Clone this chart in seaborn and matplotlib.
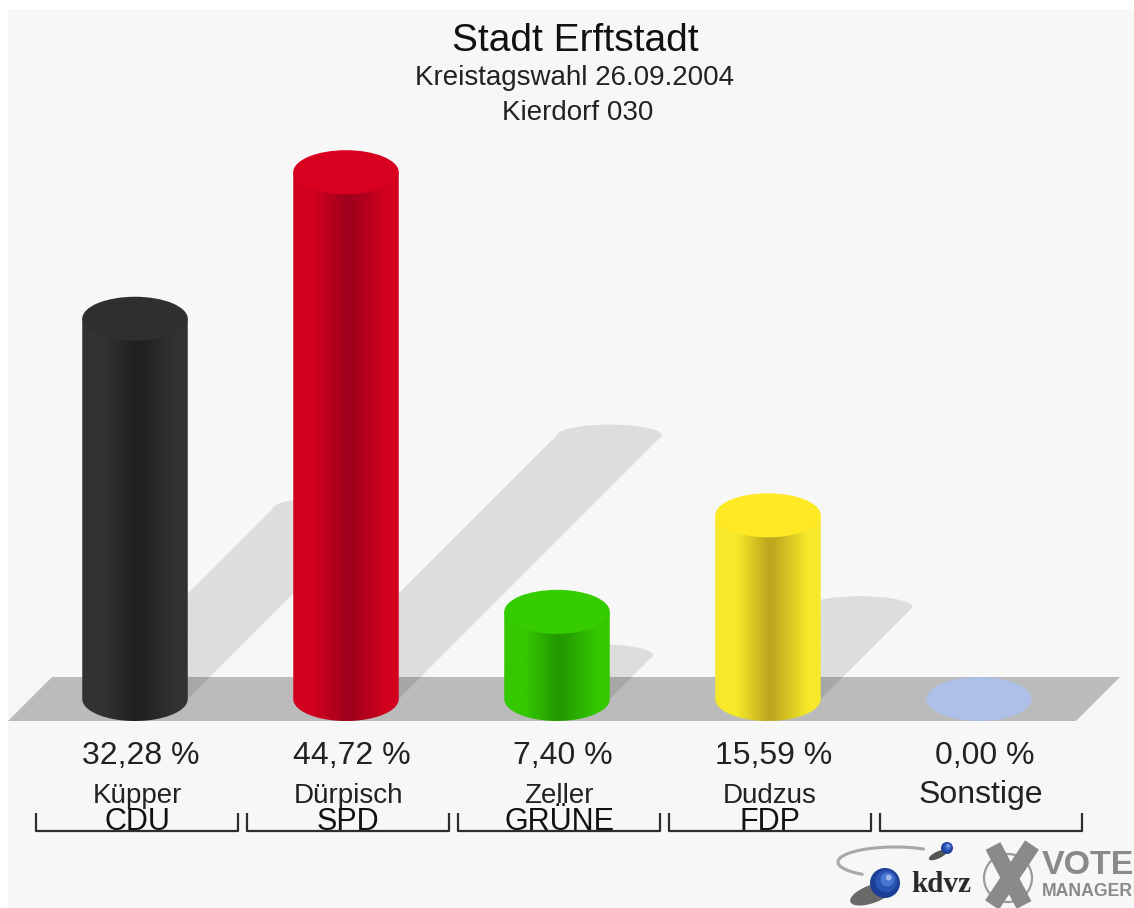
import numpy as np
import pandas as pd
import matplotlib
matplotlib.use("Agg")
import matplotlib.pyplot as plt
from matplotlib.collections import LineCollection
from matplotlib.colors import LinearSegmentedColormap
from matplotlib.patches import Circle, Ellipse, PathPatch, Polygon
from matplotlib.path import Path
from matplotlib.transforms import Affine2D, blended_transform_factory
import seaborn as sns

# Values
candidates = ["Küpper", "Dürpisch", "Zeller", "Dudzus", "Sonstige"]
parties = ["CDU", "SPD", "GRÜNE", "FDP", ""]
shares = [32.28, 44.72, 7.40, 15.59, 0.00]
share_labels = ["32,28 %", "44,72 %", "7,40 %", "15,59 %", "0,00 %"]

top_colors = ["#2f2f2f", "#d9001f", "#35cc00", "#ffe925", "#aebfe8"]
edge_colors = ["#323232", "#d2001f", "#34c800", "#f7e92a", "#aebfe8"]
dark_colors = ["#202020", "#a0001c", "#249a00", "#bfa81e", "#aebfe8"]

sns.set_theme(style="white")
plt.rcParams["font.family"] = ["Liberation Sans", "DejaVu Sans"]

W, H = 1134, 908
BG = "#f7f7f7"
PX_PER_CAT = 211.0   # bar spacing in pixels
PX_PER_PCT = 11.78
ZERO_PY = 699.0
FIRST_PX = 135.0
ELL_H = 44.0 / PX_PER_PCT  # ellipse height in percent units

fig = plt.figure(figsize=(W / 100, H / 100), dpi=100, facecolor="white")
ax = fig.add_axes([0, 0, 1, 1])

df = pd.DataFrame({"candidate": candidates, "share": shares})
sns.barplot(data=df, x="candidate", y="share", hue="candidate", palette=top_colors,
            width=0.5, saturation=1, legend=False, ax=ax, zorder=3)

xlim = (-FIRST_PX / PX_PER_CAT, (W - FIRST_PX) / PX_PER_CAT)
ylim = ((ZERO_PY - H) / PX_PER_PCT, ZERO_PY / PX_PER_PCT)
ax.set_axis_off()

# pixel coordinates, y going down
px = Affine2D().scale(1, -1).translate(0, H)
x_data_y_px = blended_transform_factory(ax.transData, px)

# panel and floor
fig.patches.append(plt.Rectangle((8, 9), W - 8, H - 9, transform=px, fc=BG, ec="none", zorder=-5))
ax.add_patch(Polygon([(8, 721), (52, 677), (1120, 677), (1076, 721)], closed=True, transform=px,
                     fc="#bbbbbb", ec="none", zorder=1))

theta = np.linspace(0, np.pi, 40)
bars = [b for b in ax.patches if isinstance(b, plt.Rectangle)]

for bar, edge, dark, top in zip(bars, edge_colors, dark_colors, top_colors):
    x0, w, v = bar.get_x(), bar.get_width(), bar.get_height()
    cx = x0 + w / 2
    bar.set_visible(False)

    if v > 0:
        # shadow leaning up and to the right, half as tall as the bar
        shift = v / 2 * PX_PER_PCT
        sx, sy = shift / PX_PER_CAT, shift / PX_PER_PCT
        cap_x = cx + sx + w / 2 * np.cos(theta)
        cap_y = sy + 11 / PX_PER_PCT * np.sin(theta)
        pts = [(x0, 0), (x0 + w, 0)] + list(zip(cap_x, cap_y))
        ax.add_patch(Polygon(pts, closed=True, fc="black", alpha=0.1, ec="none", zorder=2))

        # body with horizontal shading
        low_x = cx + w / 2 * np.cos(theta)
        low_y = -ELL_H / 2 * np.sin(theta)
        body = [(x0, v), (x0 + w, v)] + list(zip(low_x, low_y))
        clip = PathPatch(Path(body + [body[0]]), transform=ax.transData, fc="none", ec="none")
        ax.add_patch(clip)
        cmap = LinearSegmentedColormap.from_list(
            "c", [(0, edge), (0.2, edge), (0.5, dark), (0.55, dark), (0.88, edge), (1, edge)])
        im = ax.imshow(np.linspace(0, 1, 256)[None, :], cmap=cmap, aspect="auto", zorder=3,
                       extent=(x0, x0 + w, -ELL_H / 2, v))
        im.set_clip_path(clip)

    ax.add_patch(Ellipse((cx, v), w, ELL_H, fc=top, ec="none", zorder=4))

ax.set_xlim(xlim)
ax.set_ylim(ylim)

# titles
ax.text(575, 41, "Stadt Erftstadt", transform=px, ha="center", va="center", fontsize=28, color="#111111")
ax.text(575, 78, "Kreistagswahl 26.09.2004", transform=px, ha="center", va="center", fontsize=20, color="#222222")
ax.text(578, 113, "Kierdorf 030", transform=px, ha="center", va="center", fontsize=20, color="#222222")

# labels and brackets under the bars
segs = []
for i, (label, name, party) in enumerate(zip(share_labels, candidates, parties)):
    ax.text(i + 6 / PX_PER_CAT, 756, label, transform=x_data_y_px, ha="center", va="center",
            fontsize=23, color="#222222")
    if party:
        ax.text(i + 2 / PX_PER_CAT, 796, name, transform=x_data_y_px, ha="center", va="center",
                fontsize=20, color="#222222")
        ax.text(i + 2 / PX_PER_CAT, 822, party, transform=x_data_y_px, ha="center", va="center",
                fontsize=22, color="#111111")
    else:
        ax.text(i + 2 / PX_PER_CAT, 795, name, transform=x_data_y_px, ha="center", va="center",
                fontsize=23, color="#222222")
    left = FIRST_PX + i * PX_PER_CAT - 99
    right = left + 202
    segs.append([(left, 813), (left, 831), (right, 831), (right, 813)])
ax.add_collection(LineCollection(segs, colors="#2e2e2e", linewidths=1.6, transform=px, zorder=5))

# logos at the lower right
arc_t = np.radians(np.linspace(300, 125, 40))
ax.plot(895 + 57 * np.cos(arc_t), 862 + 15 * np.sin(arc_t), transform=px, color="#a8a8a8", lw=2.2,
        solid_capstyle="round", zorder=5)
ax.add_patch(Ellipse((872, 894), 46, 18, angle=-20, transform=px, fc="#3a3a3a", ec="none", alpha=0.75, zorder=5))
ax.add_patch(Ellipse((938, 855), 20, 7, angle=-25, transform=px, fc="#555555", ec="none", zorder=5))
for (sx, sy, r) in [(885, 883, 15), (947, 848, 6)]:
    for k, col in enumerate(["#1c3f95", "#2a55b5", "#4a78d0", "#9db8e8"]):
        rk = r * (1 - k * 0.27)
        ax.add_patch(Circle((sx + k * r * 0.08, sy - k * r * 0.12), rk, transform=px, fc=col, ec="none", zorder=6))
ax.text(941, 885, "kdvz", transform=px, ha="center", va="center", fontsize=21, fontweight="bold",
        family=["Liberation Serif", "DejaVu Serif"], color="#2a2a2a", zorder=6)
ax.add_patch(Circle((1008, 878), 24, transform=px, fc="none", ec="#9a9a9a", lw=1.6, zorder=5))
ax.plot([993, 1024], [846, 905], transform=px, color="#8a8a8a", lw=12, solid_capstyle="butt", zorder=6)
ax.plot([1032, 992], [845, 905], transform=px, color="#8a8a8a", lw=12, solid_capstyle="butt", zorder=6)
ax.text(1042, 866, "VOTE", transform=px, ha="left", va="center", fontsize=24.5, fontweight="bold",
        color="#8a8a8a", zorder=6)
ax.text(1042, 892, "MANAGER", transform=px, ha="left", va="center", fontsize=12.7, fontweight="bold",
        color="#8a8a8a", zorder=6)

fig.savefig("out.png", dpi=100, facecolor="white")
